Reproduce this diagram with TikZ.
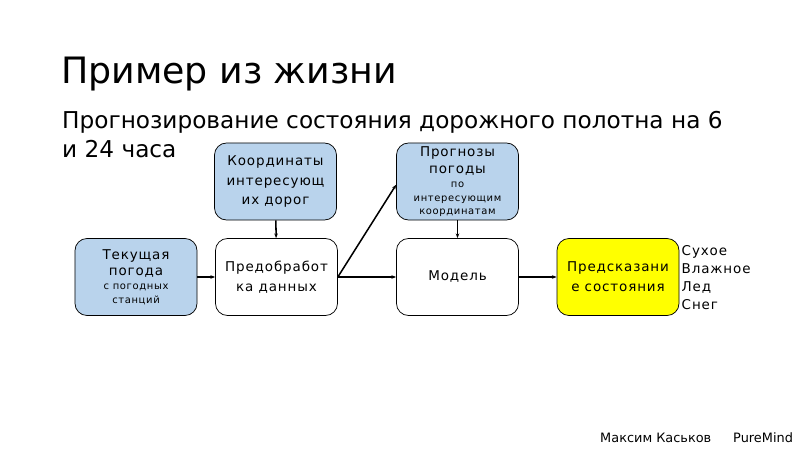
\documentclass[tikz,border=0pt]{standalone}
\usepackage{fontspec}
\setmainfont{DejaVu Sans}
\newfontfamily\boxfont[LetterSpace=6.5]{DejaVu Sans}
\usetikzlibrary{arrows.meta}

\definecolor{boxblue}{RGB}{185,211,236}
\definecolor{boxyellow}{RGB}{255,255,0}
\newcommand\smalltxt{\fontsize{8.5}{12}\selectfont}

\begin{document}
\begin{tikzpicture}[x=0.03cm,y=-0.03cm,
				block/.style={draw=black,line width=0.6pt,rounded corners=0.36cm,
					minimum width=3.66cm,minimum height=2.31cm,align=center,
					inner sep=1pt,font=\boxfont\fontsize{11.5}{17}\selectfont},
				src/.style={block,fill=boxblue},
				res/.style={block,fill=boxyellow},
				link/.style={-{Stealth[length=4pt,width=3pt]},line width=1.3pt}]
				\useasboundingbox (0,0) rectangle (800,449);
				% heading
				\node[anchor=base west,inner sep=0,font=\fontsize{31}{36}\selectfont] (title) at (61,83) {Пример из жизни};
				\node[anchor=base west,inner sep=0,align=left,font=\fontsize{19.8}{24}\selectfont] (subtitle) at (62,157)
					{Прогнозирование состояния дорожного полотна на 6\\и 24 часа};
				% inputs
				\node[src] (roads) at (275.5,181.5) {Координаты\\интересующ\\их дорог};
				\node[src] (weather) at (136,277) {Текущая\\[-3.5pt]погода\\[-4.5pt]{\smalltxt с погодных}\\[-5.5pt]{\smalltxt станций}};
				\node[src] (forecast) at (457.5,181.5) {Прогнозы\\[-2pt]погоды\\[-5pt]{\smalltxt по}\\[-5pt]{\smalltxt интересующим}\\[-6pt]{\smalltxt координатам}};
				% chain
				\node[block] (prep) at (276.5,277) {Предобработ\\ка данных};
				\node[block] (model) at (457.5,277) {Модель};
				\node[res] (pred) at (618,277) {Предсказани\\е состояния};
				\node[anchor=north west,inner sep=0,align=left,font=\boxfont\fontsize{11.5}{15.4}\selectfont] (states) at (681.5,245)
					{Сухое\\Влажное\\Лед\\Снег};
				% arrows
				\draw[link] (weather) -- (prep);
				\draw[link] (roads) -- (prep);
				\draw[link] (prep.east) -- (forecast.183);
				\draw[link] (prep) -- (model);
				\draw[link] (forecast) -- (model);
				\draw[link] (model) -- (pred);
				% footer
				\node[anchor=base west,inner sep=0,font=\fontsize{11}{13}\selectfont] (author) at (600,442) {Максим Каськов};
				\node[anchor=base west,inner sep=0,font=\fontsize{11}{13}\selectfont] (team) at (733,442) {PureMind};
			\end{tikzpicture}
\end{document}
